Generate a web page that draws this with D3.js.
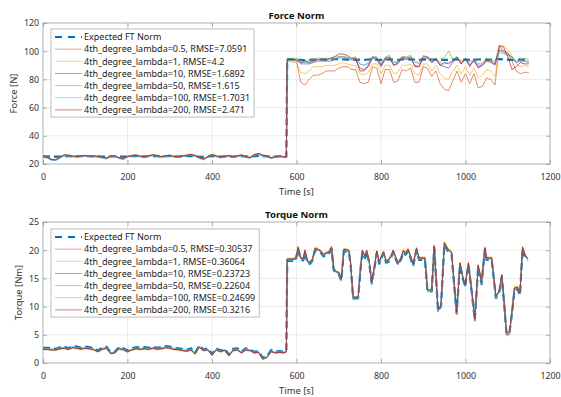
<!DOCTYPE html>
<html>
<head>
<meta charset="utf-8">
<script src="https://cdn.jsdelivr.net/npm/d3@7"></script>
<style>
  body { margin: 0; background: #fff; }
  svg { display: block; font-family: "Noto Sans", "DejaVu Sans", sans-serif; }
</style>
</head>
<body>
<svg id="chart" width="561" height="397"></svg>
<script>
// ---- data ----
var timePre = [0,10,20,30,40,50,60,70,80,90,100,110,120,130,140,150,160,170,180,190,200,210,220,230,240,250,260,270,280,290,300,310,320,330,340,350,360,370,380,390,400,410,420,430,440,450,460,470,480,490,500,510,520,530,540,550,560,570,576];
var forceTimePost = [578,590,600,610,620,630,640,650,660,670,680,690,700,710,720,730,740,750,760,770,780,790,800,810,820,830,840,850,860,870,880,890,900,910,920,930,940,950,960,970,980,990,1000,1010,1020,1030,1040,1050,1060,1070,1080,1090,1100,1110,1120,1130,1140,1150];
var torqueTimePost = [578,590,598,604,610,616,620,626,632,638,644,652,658,664,670,676,683,688,694,700,706,712,716,724,728,734,746,752,756,762,766,772,778,784,790,796,802,806,812,817,823,829,835,841,847,853,858,864,870,876,884,890,904,910,920,926,935,942,950,958,967,973,979,987,993,999,1007,1015,1022,1030,1038,1046,1050,1062,1072,1080,1086,1092,1097,1104,1110,1116,1123,1129,1135,1141,1147];

var xTicks = [0, 200, 400, 600, 800, 1000, 1200];
var forceTicks = [20, 40, 60, 80, 100, 120];
var torqueTicks = [0, 5, 10, 15, 20, 25];

var seriesColors = ["#0072BD", "#D95319", "#EDB120", "#7E2F8E", "#77AC30", "#4DBEEE", "#A2142F"];
var forceLabels = ["Expected FT Norm", "4th_degree_lambda=0.5, RMSE=7.0591", "4th_degree_lambda=1, RMSE=4.2", "4th_degree_lambda=10, RMSE=1.6892", "4th_degree_lambda=50, RMSE=1.615", "4th_degree_lambda=100, RMSE=1.7031", "4th_degree_lambda=200, RMSE=2.471"];
var torqueLabels = ["Expected FT Norm", "4th_degree_lambda=0.5, RMSE=0.30537", "4th_degree_lambda=1, RMSE=0.36064", "4th_degree_lambda=10, RMSE=0.23723", "4th_degree_lambda=50, RMSE=0.22604", "4th_degree_lambda=100, RMSE=0.24699", "4th_degree_lambda=200, RMSE=0.3216"];

// force [N]
var forceExpPre = [25.4,25.4,25.2,25.2,25.3,25.5,25.5,25.4,25.4,25.6,25.6,25.5,25.4,25.4,25.3,25.2,25.4,25.5,25.3,25.2,25.3,25.5,25.6,25.4,25.4,25.5,25.6,25.5,25.4,25.5,25.6,25.4,25.3,25.5,25.6,25.6,25.4,25.2,25.1,25.3,25.6,25.5,25.3,25.4,25.5,25.3,25.4,25.6,25.4,25.2,25.5,25.7,25.5,25.4,25.1,25.3,25.4,25.2,25.2];
var forceExpPost = [94.2,94.2,94.0,93.8,93.6,93.8,94.0,94.2,94.2,94.0,94.1,94.3,94.4,94.2,94.0,94.0,93.9,94.0,93.8,94.1,94.2,94.0,93.9,94.1,94.2,94.0,93.9,94.1,94.2,94.3,94.0,93.8,94.0,94.2,94.1,93.9,94.0,93.9,93.8,94.0,94.2,94.1,94.0,93.9,94.0,94.1,94.2,94.0,94.1,94.3,94.4,94.2,94.0,93.8,93.9,94.1,94.0,94.0];
var force05Pre = [25.4,25.0,23.4,23.2,24.9,26.6,26.4,25.8,25.6,26.0,26.2,25.8,26.0,25.6,25.0,24.4,25.8,26.0,24.6,24.0,25.6,26.2,26.6,25.8,25.2,26.0,26.8,26.2,25.4,26.0,26.4,25.6,25.2,26.0,26.4,27.0,26.2,24.8,23.8,25.4,27.0,26.0,25.0,25.6,26.2,25.2,26.0,26.6,25.4,24.8,26.8,27.6,26.4,26.0,24.6,25.4,26.0,25.2,25.4];
var force05Post = [94,94,93,78,76,80,83,83,84,86,86,86,88,89,89,87,87,78,77,78,89,88,77,87,87,78,79,87,86,88,78,78,89,88,82,86,77,73,72,79,86,78,84,77,84,74,75,81,80,76,104,100,99,93,86,84,85,85];
var force1Pre = [25.2,24.8,23.4,23.2,24.8,26.4,26.2,25.6,25.4,25.8,26.0,25.6,25.8,25.4,24.8,24.2,25.6,25.8,24.4,23.8,25.4,26.0,26.4,25.6,25.0,25.8,26.6,26.0,25.2,25.8,26.2,25.4,25.0,25.8,26.2,26.8,26.0,24.6,23.6,25.2,26.8,25.8,24.8,25.4,26.0,25.0,25.8,26.4,25.2,24.6,26.6,27.4,26.2,25.8,24.4,25.2,25.8,25.0,25.2];
var force1Post = [93,92,92,85,84,86,89,89,89,90,90,90,91,92,91,90,90,84,83,85,91,91,84,90,90,84,85,90,90,91,84,83,91,91,86,90,84,81,80,86,90,84,89,83,88,81,83,87,86,82,103,104,101,97,91,89,90,89];
var force10Pre = [24.8,24.4,22.8,22.6,24.3,26.0,25.8,25.2,25.0,25.4,25.6,25.2,25.4,25.0,24.4,23.8,25.2,25.4,24.0,23.4,25.0,25.6,26.0,25.2,24.6,25.4,26.2,25.6,24.8,25.4,25.8,25.0,24.6,25.4,25.8,26.4,25.6,24.2,23.2,24.8,26.4,25.4,24.4,25.0,25.6,24.6,25.4,26.0,24.8,24.2,26.2,27.0,25.8,25.4,24.0,24.8,25.4,24.6,24.8];
var force10Post = [94,94,94,91,91,91,92,93,93,93,93,94,96,96,95,94,94,88,87,89,95,94,89,94,95,90,91,95,94,95,90,89,95,95,92,94,90,89,88,92,95,91,94,90,93,89,90,93,92,90,101,100,98,96,92,93,93,92];
var force50Pre = [25.0,24.6,23.2,23.0,24.6,26.2,26.0,25.4,25.2,25.6,25.8,25.4,25.6,25.2,24.6,24.0,25.4,25.6,24.2,23.6,25.2,25.8,26.2,25.4,24.8,25.6,26.4,25.8,25.0,25.6,26.0,25.2,24.8,25.6,26.0,26.6,25.8,24.4,23.4,25.0,26.6,25.6,24.6,25.2,25.8,24.8,25.6,26.2,25.0,24.4,26.4,27.2,26.0,25.6,24.2,25.0,25.6,24.8,25.0];
var force50Post = [95,95,95,93,93,93,94,95,95,95,95,96,96,96,96,95,96,91,90,92,96,96,91,96,97,92,93,96,96,97,93,92,97,96,94,95,92,96,100,94,96,93,95,92,95,91,92,95,94,93,100,99,97,96,93,94,95,94];
var force100Pre = [24.6,24.2,22.6,22.4,24.1,25.8,25.6,25.0,24.8,25.2,25.4,25.0,25.2,24.8,24.2,23.6,25.0,25.2,23.8,23.2,24.8,25.4,25.8,25.0,24.4,25.2,26.0,25.4,24.6,25.2,25.6,24.8,24.4,25.2,25.6,26.2,25.4,23.8,22.8,24.6,26.2,25.2,24.2,24.8,25.4,24.4,25.2,25.8,24.6,24.0,26.0,26.8,25.6,25.2,23.8,24.6,25.2,24.4,24.6];
var force100Post = [93,93,93,92,92,92,93,94,94,94,94,94,95,95,95,94,94,91,90,91,95,95,91,95,95,92,92,95,95,95,92,91,95,95,93,94,91,91,92,93,95,92,94,91,94,90,91,94,93,91,99,98,97,95,92,93,93,93];
var force200Pre = [25.2,24.8,23.2,23.0,24.7,26.4,26.2,25.6,25.4,25.8,26.0,25.6,25.8,25.4,24.8,24.2,25.6,25.8,24.4,23.8,25.4,26.0,26.4,25.6,25.0,25.8,26.6,26.0,25.2,25.8,26.2,25.4,25.0,25.8,26.2,26.8,26.0,24.6,23.6,25.2,26.8,25.8,24.8,25.4,26.0,25.0,25.8,26.4,25.2,24.6,26.6,27.4,26.2,25.8,24.4,25.2,25.8,25.0,25.2];
var force200Post = [94,94,94,92,93,92,93,94,94,94,95,96,98,98,97,95,95,86,86,90,96,95,90,95,96,90,92,96,95,96,89,89,96,96,92,95,90,92,91,93,96,91,95,89,94,88,90,94,93,91,104,103,96,87,89,92,91,91];

// torque [Nm]
var torqueExpPre = [2.7,2.7,2.6,2.5,2.8,2.9,2.6,3.0,2.9,2.7,2.9,2.8,2.6,2.2,2.7,2.9,1.9,2.0,2.8,2.6,2.2,2.6,2.8,2.7,2.8,2.7,2.9,2.7,2.8,3.0,2.9,2.7,2.6,2.5,2.3,2.6,1.8,3.1,2.4,2.6,1.6,2.6,2.2,2.5,1.5,2.5,2.6,2.0,2.6,2.4,2.0,2.1,0.9,1.2,2.3,2.0,2.1,2.0,2.2];
var torqueExpPost = [18.1,18.1,18.2,20.2,18.3,18.2,19.6,17.7,17.6,18.2,20.0,19.8,19.5,18.9,19.2,19.3,20.2,16.5,15.9,15.8,14.6,19.8,19.8,19.6,17.5,11.5,11.5,17.0,19.6,18.6,19.6,17.8,14.1,16.6,19.5,17.6,18.8,19.4,17.8,17.9,18.6,19.6,18.4,17.4,18.3,19.6,19.2,19.8,18.6,17.2,20.0,18.3,18.3,12.7,12.7,20.4,9.3,10.0,21.0,19.9,19.3,14.0,8.8,17.4,15.2,13.5,17.4,12.4,7.6,17.0,14.0,20.1,18.3,18.3,11.5,12.6,15.3,10.0,5.2,5.3,8.8,13.0,13.1,12.1,20.2,18.8,18.2];
var torque05Pre = [2.4,2.4,2.3,2.3,2.5,2.6,2.4,2.7,2.6,2.4,2.6,2.5,2.3,2.0,2.4,2.6,1.7,1.8,2.5,2.3,2.0,2.3,2.5,2.4,2.5,2.4,2.6,2.4,2.5,2.7,2.6,2.4,2.3,2.2,2.1,2.3,1.6,2.8,2.2,2.3,1.4,2.3,2.0,2.2,1.3,2.2,2.3,1.8,2.3,2.2,1.8,1.9,0.7,1.0,2.0,1.8,1.9,1.8,2.0];
var torque05Post = [18.5,18.5,18.6,20.6,18.7,18.6,20.0,18.1,17.9,18.5,20.4,20.2,19.9,19.3,19.6,19.7,20.6,16.8,16.2,16.1,14.8,20.2,20.2,20.0,17.9,11.7,11.7,17.3,20.0,19.0,20.0,18.2,14.3,16.9,19.9,18.0,19.2,19.8,18.2,18.3,19.0,20.0,18.8,17.8,18.7,20.0,19.6,20.2,19.0,17.6,20.4,18.7,18.7,12.9,12.9,20.8,9.1,10.2,21.4,20.3,19.7,14.2,8.6,17.8,15.5,13.8,17.8,12.6,7.4,17.4,14.3,20.5,18.7,18.7,11.7,12.9,15.7,10.2,5.0,5.1,9.0,13.4,13.5,12.5,20.6,19.2,18.6];
var torque1Pre = [2.3,2.3,2.2,2.2,2.4,2.5,2.3,2.6,2.5,2.3,2.5,2.4,2.2,1.9,2.3,2.5,1.6,1.7,2.4,2.2,1.9,2.2,2.4,2.3,2.4,2.3,2.5,2.3,2.4,2.6,2.5,2.3,2.2,2.1,2.0,2.2,1.5,2.7,2.1,2.2,1.3,2.2,1.9,2.1,1.2,2.1,2.2,1.7,2.2,2.1,1.7,1.8,0.6,0.9,1.9,1.7,1.8,1.7,1.9];
var torque1Post = [18.6,18.6,18.7,20.8,18.8,18.7,20.2,18.2,18.0,18.6,20.6,20.3,20.0,19.4,19.7,19.8,20.8,16.9,16.3,16.2,14.9,20.3,20.3,20.1,18.0,11.6,11.6,17.4,20.1,19.1,20.1,18.3,14.2,17.0,20.0,18.1,19.3,19.9,18.3,18.4,19.1,20.1,18.9,17.9,18.8,20.1,19.7,20.4,19.1,17.7,20.6,18.8,18.8,13.0,13.0,21.0,9.0,10.3,21.5,20.4,19.8,14.3,8.5,17.9,15.6,13.9,17.9,12.7,7.3,17.5,14.4,20.6,18.8,18.8,11.8,13.0,15.8,10.3,4.8,5.0,9.1,13.6,13.7,12.6,20.7,19.3,18.7];
var torque10Pre = [2.5,2.5,2.4,2.3,2.6,2.7,2.4,2.8,2.7,2.5,2.7,2.6,2.4,2.0,2.5,2.7,1.7,1.8,2.6,2.4,2.0,2.4,2.6,2.5,2.6,2.5,2.7,2.5,2.6,2.8,2.7,2.5,2.4,2.3,2.1,2.4,1.6,2.9,2.2,2.4,1.4,2.4,2.0,2.3,1.3,2.3,2.4,1.8,2.4,2.2,1.8,1.9,0.7,1.0,2.1,1.8,1.9,1.8,2.0];
var torque10Post = [18.4,18.4,18.5,20.4,18.6,18.5,19.9,18.0,17.8,18.4,20.3,20.1,19.8,19.2,19.5,19.6,20.5,16.7,16.1,16.0,14.7,20.1,20.1,19.9,17.8,11.6,11.6,17.2,19.9,18.9,19.9,18.1,14.2,16.8,19.8,17.9,19.1,19.7,18.1,18.2,18.9,20.0,18.7,17.7,18.6,19.9,19.5,20.2,18.9,17.5,20.3,18.6,18.6,12.8,12.8,20.7,9.2,10.1,21.3,20.2,19.6,14.1,8.7,17.7,15.4,13.7,17.7,12.5,7.5,17.3,14.2,20.4,18.6,18.6,11.6,12.8,15.6,10.1,5.1,5.2,8.9,13.3,13.4,12.4,20.5,19.1,18.5];
var torque50Pre = [2.5,2.5,2.4,2.4,2.6,2.7,2.5,2.8,2.7,2.5,2.7,2.6,2.4,2.1,2.5,2.7,1.8,1.9,2.6,2.4,2.1,2.4,2.6,2.5,2.6,2.5,2.7,2.5,2.6,2.8,2.7,2.5,2.4,2.3,2.2,2.4,1.7,2.9,2.3,2.4,1.5,2.4,2.1,2.3,1.4,2.3,2.4,1.9,2.4,2.3,1.9,2.0,0.8,1.1,2.1,1.9,2.0,1.9,2.1];
var torque50Post = [18.3,18.3,18.4,20.4,18.5,18.4,19.8,17.9,17.8,18.4,20.2,20.0,19.7,19.1,19.4,19.5,20.4,16.7,16.1,16.0,14.7,20.0,20.0,19.8,17.7,11.5,11.5,17.2,19.8,18.8,19.8,18.0,14.2,16.8,19.7,17.8,19.0,19.6,18.0,18.1,18.8,19.8,18.6,17.6,18.5,19.8,19.4,20.0,18.8,17.4,20.2,18.5,18.5,12.8,12.8,20.6,9.3,10.1,21.2,20.1,19.5,14.1,8.8,17.6,15.4,13.6,17.6,12.5,7.6,17.2,14.1,20.3,18.5,18.5,11.6,12.7,15.5,10.1,5.2,5.3,8.9,13.2,13.3,12.3,20.4,19.0,18.4];
var torque100Pre = [2.6,2.6,2.5,2.4,2.7,2.8,2.5,2.9,2.8,2.6,2.8,2.7,2.5,2.1,2.6,2.8,1.8,1.9,2.7,2.5,2.1,2.5,2.7,2.6,2.7,2.6,2.8,2.6,2.7,2.9,2.8,2.6,2.5,2.4,2.2,2.5,1.7,3.0,2.3,2.5,1.5,2.5,2.1,2.4,1.4,2.4,2.5,1.9,2.5,2.3,1.9,2.0,0.8,1.1,2.2,1.9,2.0,1.9,2.1];
var torque100Post = [18.2,18.2,18.3,20.2,18.4,18.3,19.7,17.8,17.7,18.3,20.1,19.9,19.6,19.0,19.3,19.4,20.3,16.6,16.0,15.9,14.5,19.9,19.9,19.7,17.6,11.2,11.2,17.1,19.7,18.7,19.7,17.9,14.0,16.7,19.6,17.7,18.9,19.5,17.9,18.0,18.7,19.7,18.5,17.5,18.4,19.7,19.3,19.9,18.7,17.3,20.1,18.4,18.4,12.6,12.6,20.5,9.2,10.0,21.1,20.0,19.4,14.0,8.7,17.5,15.3,13.5,17.5,12.4,7.5,17.1,14.0,20.2,18.4,18.4,11.4,12.6,15.4,10.0,5.1,5.2,8.8,13.1,13.2,12.2,20.3,18.9,18.3];
var torque200Pre = [2.4,2.4,2.3,2.3,2.5,2.6,2.4,2.7,2.6,2.5,2.6,2.5,2.4,2.0,2.4,2.6,1.7,1.8,2.5,2.4,2.0,2.3,2.5,2.4,2.5,2.4,2.6,2.5,2.5,2.7,2.6,2.4,2.4,2.2,2.1,2.3,1.6,2.8,2.2,2.3,1.4,2.3,2.0,2.3,1.3,2.2,2.3,1.8,2.3,2.2,1.8,1.9,0.7,1.0,2.0,1.8,1.9,1.8,2.0];
var torque200Post = [18.4,18.4,18.5,20.5,18.6,18.5,19.9,18.0,17.9,18.5,20.3,20.1,19.8,19.2,19.5,19.6,20.5,16.8,16.2,16.1,14.8,20.1,20.1,19.9,17.8,11.7,11.7,17.3,19.9,18.9,19.9,18.1,14.3,16.9,19.8,17.9,19.1,19.7,18.1,18.2,18.9,19.9,18.7,17.7,18.6,19.9,19.5,20.1,18.9,17.5,20.3,18.6,18.6,13.0,13.0,20.7,9.5,10.3,21.3,20.2,19.6,14.3,9.0,17.7,15.5,13.8,17.7,12.7,7.8,17.3,14.3,20.4,18.6,18.6,11.8,12.9,15.6,10.3,5.4,5.5,9.1,13.3,13.4,12.4,20.5,19.1,18.5];

// ---- build series tables ----
var forceTime = timePre.concat(forceTimePost);
var torqueTime = timePre.concat(torqueTimePost);

var forceSeries = [
    forceExpPre.concat(forceExpPost),
    force05Pre.concat(force05Post),
    force1Pre.concat(force1Post),
    force10Pre.concat(force10Post),
    force50Pre.concat(force50Post),
    force100Pre.concat(force100Post),
    force200Pre.concat(force200Post)
];
var torqueSeries = [
    torqueExpPre.concat(torqueExpPost),
    torque05Pre.concat(torque05Post),
    torque1Pre.concat(torque1Post),
    torque10Pre.concat(torque10Post),
    torque50Pre.concat(torque50Post),
    torque100Pre.concat(torque100Post),
    torque200Pre.concat(torque200Post)
];

var svg = d3.select("#chart");
var left = 43, right = 550;
var plainNum = d3.format("d");

function drawPanel(opt) {
    var g = svg.append("g");

    var x = d3.scaleLinear().domain([0, 1200]).range([left, right]);
    var y = d3.scaleLinear().domain(opt.yDomain).range([opt.bottom, opt.top]);

    // grid
    g.append("g").selectAll("line").data(xTicks.slice(1, -1)).join("line")
        .attr("x1", function (d) { return x(d); }).attr("x2", function (d) { return x(d); })
        .attr("y1", opt.top).attr("y2", opt.bottom)
        .attr("stroke", "#e3e3e3").attr("stroke-width", 0.7);
    g.append("g").selectAll("line").data(opt.yTicks.slice(1, -1)).join("line")
        .attr("y1", function (d) { return y(d); }).attr("y2", function (d) { return y(d); })
        .attr("x1", left).attr("x2", right)
        .attr("stroke", "#e3e3e3").attr("stroke-width", 0.7);

    // lines
    var clipId = "clip-" + opt.id;
    svg.append("clipPath").attr("id", clipId).append("rect")
        .attr("x", left).attr("y", opt.top).attr("width", right - left).attr("height", opt.bottom - opt.top);

    var line = d3.line()
        .defined(function (d) { return d[1] != null; })
        .x(function (d) { return x(d[0]); })
        .y(function (d) { return y(d[1]); });

    var lines = g.append("g").attr("clip-path", "url(#" + clipId + ")");
    opt.series.forEach(function (vals, i) {
        var pts = opt.time.map(function (t, k) { return [t, vals[k]]; });
        var p = lines.append("path")
            .datum(pts)
            .attr("fill", "none")
            .attr("stroke", seriesColors[i])
            .attr("stroke-linejoin", "round")
            .attr("d", line);
        if (i === 0) {
            p.attr("stroke-width", 2.2).attr("stroke-dasharray", "7,4");
        } else {
            p.attr("stroke-width", 0.9).attr("stroke-opacity", 0.75);
        }
    });

    // box
    g.append("rect")
        .attr("x", left).attr("y", opt.top)
        .attr("width", right - left).attr("height", opt.bottom - opt.top)
        .attr("fill", "none").attr("stroke", "#8c8c8c").attr("stroke-width", 0.7);

    // axes (ticks pointing inward)
    var xAxis = g.append("g").attr("transform", "translate(0," + opt.bottom + ")")
        .call(d3.axisBottom(x).tickValues(xTicks).tickFormat(plainNum).tickSizeInner(-4).tickSizeOuter(0).tickPadding(10));
    var xAxisTop = g.append("g").attr("transform", "translate(0," + opt.top + ")")
        .call(d3.axisTop(x).tickValues(xTicks).tickSizeInner(-4).tickSizeOuter(0).tickFormat(""));
    var yAxis = g.append("g").attr("transform", "translate(" + left + ",0)")
        .call(d3.axisLeft(y).tickValues(opt.yTicks).tickFormat(plainNum).tickSizeInner(-4).tickSizeOuter(0).tickPadding(4));
    var yAxisRight = g.append("g").attr("transform", "translate(" + right + ",0)")
        .call(d3.axisRight(y).tickValues(opt.yTicks).tickSizeInner(-4).tickSizeOuter(0).tickFormat(""));

    [xAxis, xAxisTop, yAxis, yAxisRight].forEach(function (a) {
        a.select(".domain").remove();
        a.selectAll(".tick line").attr("stroke", "#8c8c8c").attr("stroke-width", 0.7);
        a.selectAll(".tick text")
            .attr("fill", "#333")
            .style("font-family", "'Noto Sans', sans-serif")
            .style("font-size", "8.8px");
    });

    // title + labels
    g.append("text")
        .attr("x", (left + right) / 2).attr("y", opt.top - 4)
        .attr("text-anchor", "middle")
        .style("font-size", "9.6px").style("font-weight", "bold")
        .attr("fill", "#111")
        .text(opt.title);
    g.append("text")
        .attr("x", (left + right) / 2).attr("y", opt.bottom + 31)
        .attr("text-anchor", "middle")
        .style("font-size", "9.4px")
        .attr("fill", "#333")
        .text("Time [s]");
    g.append("text")
        .attr("transform", "translate(" + opt.ylabelX + "," + ((opt.top + opt.bottom) / 2) + ") rotate(-90)")
        .attr("text-anchor", "middle")
        .style("font-size", "9.4px")
        .attr("fill", "#333")
        .text(opt.ylabel);

    // legend
    var lg = g.append("g").attr("transform", "translate(51," + opt.legendTop + ")");
    var box = lg.append("rect")
        .attr("fill", "#fff").attr("stroke", "#a0a0a0").attr("stroke-width", 0.7);
    var rowH = 12.15;
    var maxW = 0;
    opt.labels.forEach(function (lab, i) {
        var cy = 8 + i * rowH;
        var l = lg.append("line")
            .attr("x1", 4).attr("x2", 31).attr("y1", cy).attr("y2", cy)
            .attr("stroke", seriesColors[i]);
        if (i === 0) {
            l.attr("stroke-width", 2.2).attr("stroke-dasharray", "7,6");
        } else {
            l.attr("stroke-width", 0.9).attr("stroke-opacity", 0.6);
        }
        var t = lg.append("text")
            .attr("x", 33).attr("y", cy + 3.2)
            .style("font-size", "9px")
            .attr("fill", "#222")
            .text(lab);
        maxW = Math.max(maxW, t.node().getComputedTextLength());
    });
    box.attr("x", 0).attr("y", 0)
        .attr("width", 33 + maxW + 4)
        .attr("height", opt.labels.length * rowH + 3);
}

drawPanel({
    id: "force", title: "Force Norm", ylabel: "Force [N]",
    top: 23, bottom: 164, yDomain: [20, 120], yTicks: forceTicks,
    ylabelX: 17, legendTop: 29,
    time: forceTime, series: forceSeries, labels: forceLabels
});

drawPanel({
    id: "torque", title: "Torque Norm", ylabel: "Torque [Nm]",
    top: 222, bottom: 363, yDomain: [0, 25], yTicks: torqueTicks,
    ylabelX: 22, legendTop: 229,
    time: torqueTime, series: torqueSeries, labels: torqueLabels
});
</script>
</body>
</html>
